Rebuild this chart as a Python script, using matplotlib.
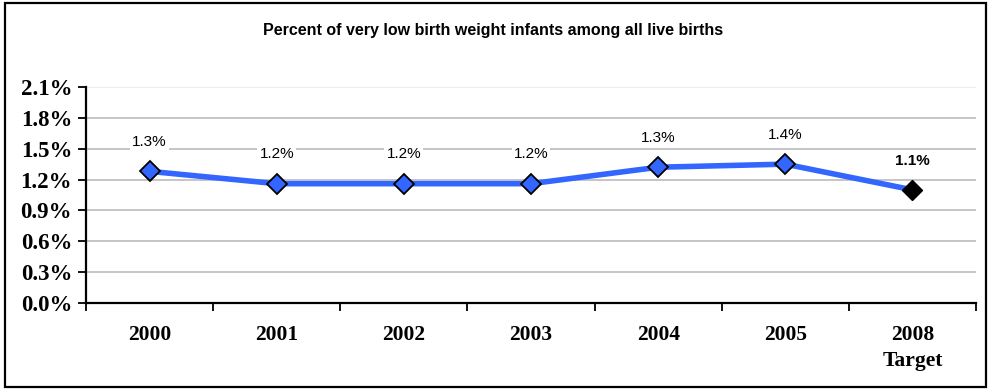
import matplotlib
matplotlib.use("Agg")
import matplotlib.pyplot as plt
from matplotlib.patches import Rectangle

years = ["2000", "2001", "2002", "2003", "2004", "2005", "2008\nTarget"]
values = [1.28, 1.16, 1.16, 1.16, 1.32, 1.35, 1.10]
y_ticks = [0.0, 0.3, 0.6, 0.9, 1.2, 1.5, 1.8, 2.1]
title = "Percent of very low birth weight infants among all live births"

fig = plt.figure(figsize=(9.91, 3.90), dpi=100)
ax = fig.add_axes([86 / 991, 1 - 303 / 390, 890 / 991, 216 / 390])

# outer frame
fig.patches.append(Rectangle((5 / 991, 3 / 390), 981 / 991, 384 / 390,
                             transform=fig.transFigure, fill=False,
                             edgecolor="black", linewidth=1.6))

x = list(range(len(years)))
ax.plot(x, values, color="#3366FF", linewidth=4, zorder=3, solid_capstyle="round")
ax.plot(x[:-1], values[:-1], linestyle="none", marker="D", markersize=10.5,
        markerfacecolor="#3366FF", markeredgecolor="black", markeredgewidth=1.3, zorder=4)
ax.plot(x[-1:], values[-1:], linestyle="none", marker="D", markersize=10.5,
        markerfacecolor="black", markeredgecolor="black", zorder=4)

for i, v in enumerate(values):
    last = i == len(values) - 1
    ax.annotate(f"{v:.1f}%", (i, v), xytext=(0, 16), textcoords="offset points",
                ha="center", va="bottom", fontsize=11,
                fontweight="bold" if last else "normal",
                family="Liberation Sans",
                bbox=dict(facecolor="white", edgecolor="none", pad=1.5), zorder=5)

ax.set_xlim(-0.5, len(years) - 0.5)
ax.set_ylim(0, 2.1)
ax.set_yticks(y_ticks)
ax.set_yticklabels([f"{t:.1f}%" for t in y_ticks], family="Liberation Serif",
                   fontweight="bold", fontsize=16.5)
ax.set_xticks([i - 0.5 for i in range(len(years) + 1)], minor=False)
ax.set_xticklabels([])
ax.set_xticks(x, minor=True)
ax.set_xticklabels(years, minor=True, family="Liberation Serif",
                   fontweight="bold", fontsize=15.5, linespacing=1.45)
ax.tick_params(axis="x", which="minor", length=0, pad=15.5)
ax.tick_params(axis="x", which="major", direction="out", length=6, width=1.3)
ax.tick_params(axis="y", direction="out", length=6, width=1.3, pad=4)

for t in y_ticks[1:-1]:
    ax.axhline(t, color="#c0c0c0", linewidth=1.3, zorder=1)
ax.axhline(2.1, color="#ececec", linewidth=1.3, zorder=1)

for s in ["top", "right"]:
    ax.spines[s].set_visible(False)
for s in ["left", "bottom"]:
    ax.spines[s].set_linewidth(1.6)

fig.text(493 / 991, 1 - 31 / 390, title, ha="center", va="center",
         family="Liberation Sans", fontweight="bold", fontsize=11.5)

fig.savefig("out.png", dpi=100)
